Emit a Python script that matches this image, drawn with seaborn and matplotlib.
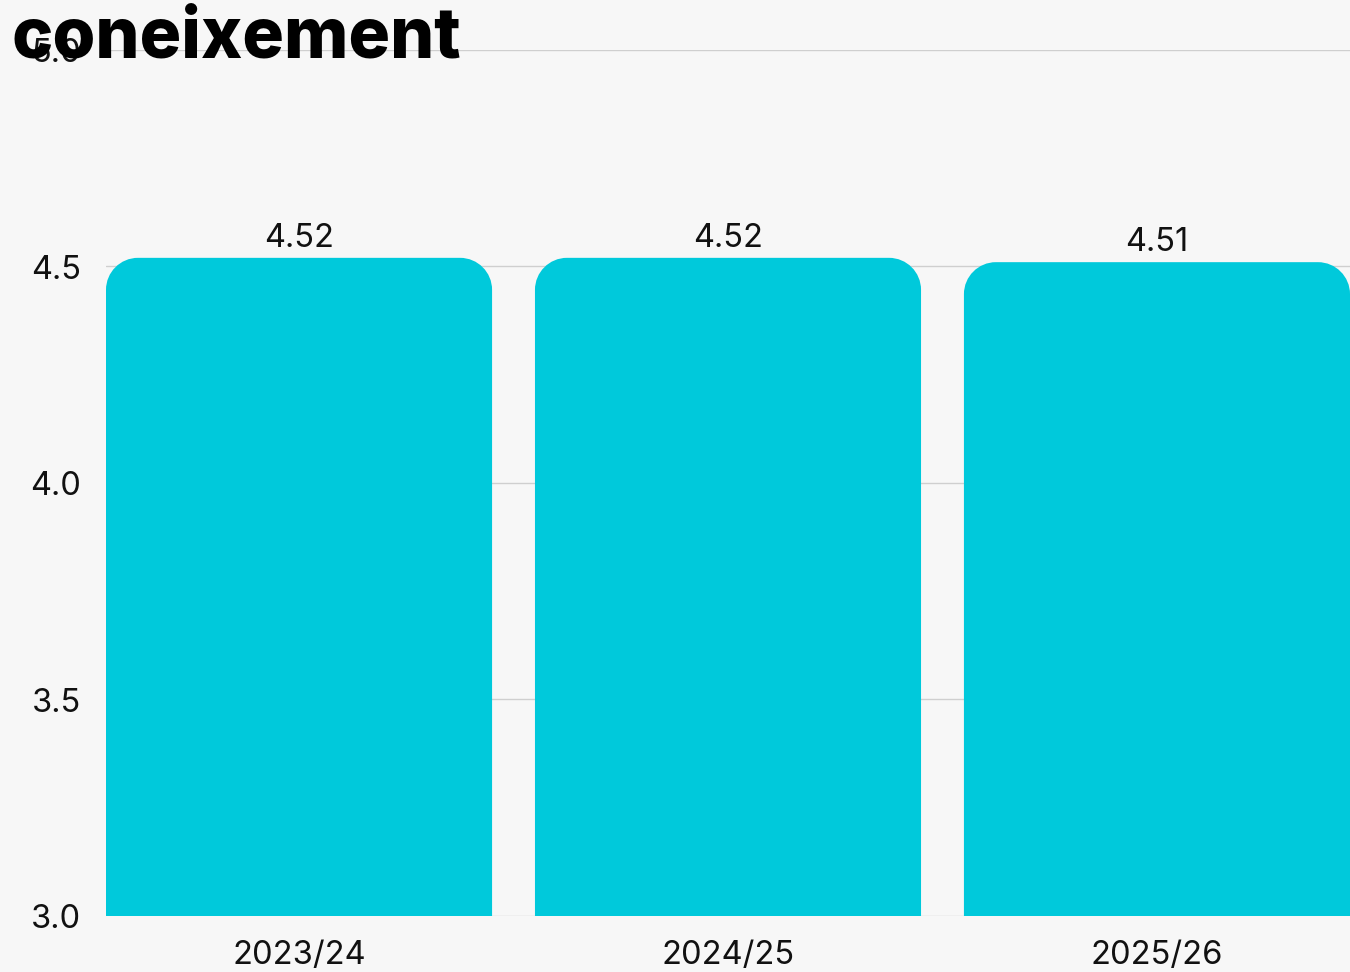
import matplotlib
matplotlib.use("Agg")
import matplotlib.pyplot as plt
import seaborn as sns
import pandas as pd
from matplotlib.path import Path
from matplotlib.patches import PathPatch

# Data
seasons = ["2023/24", "2024/25", "2025/26"]
scores = [4.52, 4.52, 4.51]
y_ticks = [3.0, 3.5, 4.0, 4.5, 5.0]
title = "coneixement"

BG = "#F7F7F7"
BAR = "#00C9DB"
GRID = "#CFCFCF"
W, H = 1350, 972

sns.set_theme(style="white")
plt.rcParams["font.family"] = ["Inter", "DejaVu Sans"]

fig = plt.figure(figsize=(W / 100, H / 100), dpi=100, facecolor=BG)
left, right, bottom, top = 106, 1350, 916, 50
ax = fig.add_axes([left / W, 1 - bottom / H, (right - left) / W, (bottom - top) / H])
ax.set_facecolor(BG)

df = pd.DataFrame({"season": seasons, "score": scores})
sns.barplot(data=df, x="season", y="score", color=BAR, saturation=1,
            width=0.9, ax=ax, errorbar=None)

ax.set_xlim(-0.45, len(seasons) - 0.55)
ax.set_ylim(y_ticks[0], y_ticks[-1])
ax.set_yticks(y_ticks)
ax.set_yticklabels([f"{t:.1f}" for t in y_ticks])
ax.set_xlabel("")
ax.set_ylabel("")
for s in ax.spines.values():
    s.set_visible(False)
ax.yaxis.grid(True, color=GRID, lw=1)
ax.set_axisbelow(True)
ax.tick_params(axis="y", length=0, pad=18, labelsize=23.5, labelcolor="#111111")
ax.tick_params(axis="x", length=0, pad=17, labelsize=23.5, labelcolor="#111111")

# Replace the plain rectangles with bars that have rounded top corners
px_per_x = (right - left) / (ax.get_xlim()[1] - ax.get_xlim()[0])
px_per_y = (bottom - top) / (ax.get_ylim()[1] - ax.get_ylim()[0])
radius_px = 32
rx, ry = radius_px / px_per_x, radius_px / px_per_y
k = 0.5523
for p in list(ax.patches):
    x0 = p.get_x()
    x1 = x0 + p.get_width()
    y0 = p.get_y()
    yt = y0 + p.get_height()
    verts = [
        (x0, y0), (x0, yt - ry),
        (x0, yt - ry * (1 - k)), (x0 + rx * (1 - k), yt), (x0 + rx, yt),
        (x1 - rx, yt),
        (x1 - rx * (1 - k), yt), (x1, yt - ry * (1 - k)), (x1, yt - ry),
        (x1, y0), (x0, y0),
    ]
    codes = [Path.MOVETO, Path.LINETO,
             Path.CURVE4, Path.CURVE4, Path.CURVE4,
             Path.LINETO,
             Path.CURVE4, Path.CURVE4, Path.CURVE4,
             Path.LINETO, Path.CLOSEPOLY]
    rounded = PathPatch(Path(verts, codes), facecolor=BAR, edgecolor="none",
                        zorder=p.get_zorder())
    p.set_visible(False)
    ax.add_patch(rounded)

# Value labels above each bar
for i, v in enumerate(scores):
    ax.annotate(f"{v:.2f}", xy=(i, v), xytext=(0, 4), textcoords="offset pixels",
                ha="center", va="bottom", fontsize=23.5, color="#111111")

fig.text(12 / W, 1 - 58 / H, title, fontsize=50, fontweight="heavy",
         ha="left", va="baseline", color="#000000", zorder=10)

fig.savefig("out.png", dpi=100, facecolor=BG)
